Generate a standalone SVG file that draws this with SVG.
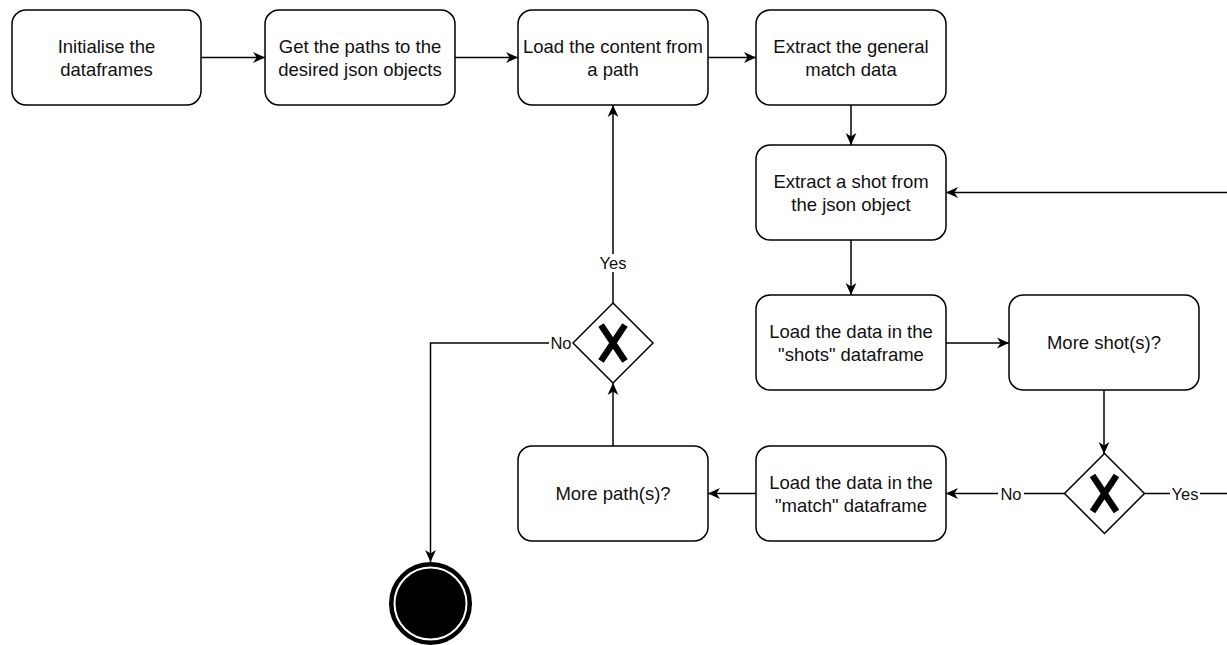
<svg xmlns="http://www.w3.org/2000/svg" width="1227" height="645" viewBox="0 0 1227 645">
<style>
.box{fill:#fff;stroke:#000;stroke-width:1.5}
.t{font-family:"Liberation Sans",Arial,sans-serif;font-size:18.5px;fill:#111;text-anchor:middle}
.lbl{font-family:"Liberation Sans",Arial,sans-serif;font-size:16.5px;fill:#111;text-anchor:middle;dominant-baseline:central}
.c{fill:none;stroke:#000;stroke-width:1.5}
.x{stroke:#000;stroke-width:6.5}
</style>
<defs>
<marker id="a" viewBox="0 0 10 10" refX="10" refY="5" markerWidth="12" markerHeight="12" markerUnits="userSpaceOnUse" orient="auto">
<path d="M0,0.5 L10,5 L0,9.5 L3,5 Z" fill="#000"/>
</marker>
</defs>
<rect width="1227" height="645" fill="#fff"/>
<g id="connectors">
<path class="c" d="M201,57.5 H265" marker-end="url(#a)"/>
<path class="c" d="M455,57.5 H518" marker-end="url(#a)"/>
<path class="c" d="M708,57.5 H756" marker-end="url(#a)"/>
<path class="c" d="M851,105 V145" marker-end="url(#a)"/>
<path class="c" d="M851,240 V295" marker-end="url(#a)"/>
<path class="c" d="M946,343 H1009" marker-end="url(#a)"/>
<path class="c" d="M1104,390 V454" marker-end="url(#a)"/>
<path class="c" d="M1065,493.5 H946" marker-end="url(#a)"/>
<path class="c" d="M1144,493.5 H1227"/>
<path class="c" d="M1227,192.5 H946" marker-end="url(#a)"/>
<path class="c" d="M756,493.5 H708" marker-end="url(#a)"/>
<path class="c" d="M613,446 V383" marker-end="url(#a)"/>
<path class="c" d="M613,303 V105" marker-end="url(#a)"/>
<path class="c" d="M573,343 H430.5 V562" marker-end="url(#a)"/>
<g id="labels">
<rect x="998" y="484" width="26" height="18" fill="#fff"/>
<text class="lbl" x="1011" y="493.5">No</text>
<rect x="1170" y="484" width="30" height="18" fill="#fff"/>
<text class="lbl" x="1185" y="493.5">Yes</text>
<rect x="597" y="254" width="32" height="18" fill="#fff"/>
<text class="lbl" x="613" y="263">Yes</text>
<rect x="549" y="334" width="24" height="18" fill="#fff"/>
<text class="lbl" x="561" y="343">No</text>
</g>
</g>
<g id="n1"><rect class="box" x="12" y="10" width="189" height="95" rx="14"/><text class="t" x="106.5" y="52.5">Initialise the</text><text class="t" x="106.5" y="75.5">dataframes</text></g>
<g id="n2"><rect class="box" x="265" y="10" width="190" height="95" rx="14"/><text class="t" x="360" y="52.5">Get the paths to the</text><text class="t" x="360" y="75.5">desired json objects</text></g>
<g id="n3"><rect class="box" x="518" y="10" width="190" height="95" rx="14"/><text class="t" x="613" y="52.5">Load the content from</text><text class="t" x="613" y="75.5">a path</text></g>
<g id="n4"><rect class="box" x="756" y="10" width="190" height="95" rx="14"/><text class="t" x="851" y="52.5">Extract the general</text><text class="t" x="851" y="75.5">match data</text></g>
<g id="n5"><rect class="box" x="756" y="145" width="190" height="95" rx="14"/><text class="t" x="851" y="187.5">Extract a shot from</text><text class="t" x="851" y="210.5">the json object</text></g>
<g id="n6"><rect class="box" x="756" y="295" width="190" height="95" rx="14"/><text class="t" x="851" y="337.5">Load the data in the</text><text class="t" x="851" y="360.5">"shots" dataframe</text></g>
<g id="n7"><rect class="box" x="1009" y="295" width="190" height="95" rx="14"/><text class="t" x="1104" y="349">More shot(s)?</text></g>
<g id="n8"><rect class="box" x="756" y="446" width="190" height="95" rx="14"/><text class="t" x="851" y="488.5">Load the data in the</text><text class="t" x="851" y="511.5">"match" dataframe</text></g>
<g id="n9"><rect class="box" x="518" y="446" width="190" height="95" rx="14"/><text class="t" x="613" y="500">More path(s)?</text></g>
<g id="g1"><path class="box" d="M613,303 L653,343 L613,383 L573,343 Z"/><path class="x" d="M601,325 L625,361 M625,325 L601,361"/></g>
<g id="g2"><path class="box" d="M1104.5,453.5 L1144.5,493.5 L1104.5,533.5 L1064.5,493.5 Z"/><path class="x" d="M1092.5,475.5 L1116.5,511.5 M1116.5,475.5 L1092.5,511.5"/></g>
<g id="end"><circle cx="430.5" cy="603.5" r="39.5" fill="#000" stroke="#000" stroke-width="4"/><circle cx="430.5" cy="603.5" r="36" fill="none" stroke="#fff" stroke-width="2"/></g>
</svg>
